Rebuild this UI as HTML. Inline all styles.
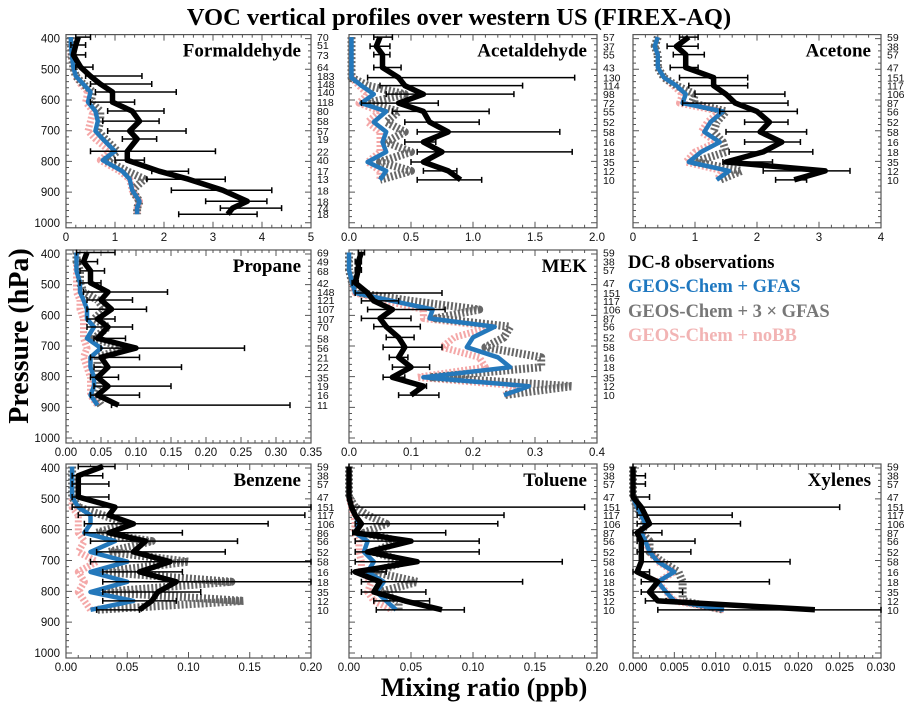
<!DOCTYPE html>
<html><head><meta charset="utf-8"><style>
html,body{margin:0;padding:0;background:#fff;}
svg{display:block;}
.tk{font-family:"Liberation Sans",sans-serif;font-size:11.5px;fill:#111;}
.cnt{font-family:"Liberation Sans",sans-serif;font-size:10.5px;fill:#111;}
.ser{font-family:"Liberation Serif",serif;font-weight:bold;}
</style></head><body>
<svg id="chart" width="915" height="708" viewBox="0 0 915 708" xmlns="http://www.w3.org/2000/svg">
<text class="ser" x="459" y="25" font-size="24.5" text-anchor="middle">VOC vertical profiles over western US (FIREX-AQ)</text>
<text class="ser" x="0" y="0" font-size="28" text-anchor="middle" transform="translate(28,336) rotate(-90)">Pressure (hPa)</text>
<text class="ser" x="484" y="696" font-size="26" text-anchor="middle">Mixing ratio (ppb)</text>
<g>
<text class="ser" x="628" y="268" font-size="18.5" fill="#000">DC-8 observations</text>
<text class="ser" x="628" y="292" font-size="18.5" fill="#1f78c0">GEOS-Chem + GFAS</text>
<text class="ser" x="628" y="317" font-size="18.5" fill="#777">GEOS-Chem + 3 × GFAS</text>
<text class="ser" x="628" y="341" font-size="18.5" fill="#f2b4b4">GEOS-Chem + noBB</text>
</g>
</svg>
<script>
// ---- data ----
const pHcho = [395,421,453,493,522,548,574,607,636,669,701,727,767,796,832,858,894,930,952,972];
const nHcho = [70,51,73,64,183,148,140,118,80,58,57,19,22,40,17,13,18,18,74,18];
const hchoObs = [0.25,0.2,0.15,0.3,0.5,0.7,0.95,0.95,1.35,1.5,1.3,1.45,1.25,1.25,1.9,2.5,3.2,3.7,3.4,3.3];
const hchoLo = [0.2,0.1,0.2,0.2,0.4,0.5,0.6,0.5,0.85,0.75,0.85,1.15,0.5,1.0,1.75,1.65,2.15,2.85,3.15,2.3];
const hchoHi = [0.5,0.4,0.4,0.55,1.55,1.75,2.25,1.4,2.0,1.9,2.45,1.85,3.05,1.6,2.5,3.25,4.2,4.1,4.4,3.9];
const hchoGfas = [0.1,0.1,0.12,0.15,0.2,0.35,0.5,0.45,0.6,0.65,0.6,0.75,1.0,0.75,1.15,1.3,1.35,1.5,1.45,1.45];
const hcho3x = [0.1,0.1,0.12,0.15,0.2,0.35,0.55,0.5,0.7,0.7,0.65,0.8,1.05,0.8,1.25,1.6,1.35,1.5,1.45,1.45];
const hchoNobb = [0.1,0.1,0.1,0.15,0.2,0.3,0.45,0.4,0.55,0.5,0.45,0.6,0.9,0.7,1.1,1.3,1.35,1.5,1.45,1.45];

const pStd = [395,425,452,494,527,553,581,610,637,672,704,737,769,802,831,860];
const nStd = [59,38,57,47,151,117,106,87,56,52,58,16,18,35,12,10];
const nAcal = [57,37,55,43,130,114,98,72,55,52,58,16,18,35,12,10];
const acalObs = [0.25,0.22,0.27,0.27,0.4,0.45,0.6,0.4,0.6,0.65,0.8,0.6,0.75,0.6,0.8,0.9];
const acalLo = [0.2,0.17,0.2,0.2,0.15,0.25,0.3,0.1,0.35,0.45,0.55,0.45,0.55,0.5,0.6,0.55];
const acalHi = [0.35,0.33,0.33,0.42,1.82,1.4,1.33,0.72,1.13,1.05,1.7,0.7,1.8,0.65,0.87,1.07];
const acalGfas = [0.02,0.02,0.02,0.02,0.02,0.1,0.2,0.1,0.3,0.2,0.3,0.27,0.3,0.15,0.3,0.25];
const acal3x = [0.02,0.02,0.02,0.02,0.02,0.15,0.45,0.15,0.4,0.3,0.45,0.3,0.5,0.25,0.5,0.25];
const acalNobb = [0.02,0.02,0.02,0.02,0.02,0.08,0.15,0.08,0.25,0.15,0.25,0.25,0.25,0.15,0.25,0.25];

const nAcet = [59,38,57,47,151,117,106,87,56,52,58,16,18,35,12,10];
const acetObs = [0.9,0.7,0.85,0.85,1.3,1.3,1.5,1.65,2.0,2.2,2.05,2.4,2.1,1.5,3.1,2.6];
const acetLo = [0.75,0.55,0.65,0.6,0.75,0.9,1.0,0.8,1.4,1.8,1.5,1.8,1.55,1.45,2.1,2.3];
const acetHi = [1.05,1.05,1.15,1.05,1.85,1.85,2.45,2.5,2.65,2.5,2.8,2.7,2.9,2.25,3.5,2.8];
const acetGfas = [0.4,0.35,0.4,0.4,0.5,0.7,0.85,0.8,1.45,1.25,1.15,1.4,1.1,0.9,1.55,1.35];
const acet3x = [0.4,0.35,0.4,0.4,0.5,0.7,1.0,0.95,1.5,1.35,1.3,1.45,1.5,1.0,1.75,1.4];
const acetNobb = [0.4,0.35,0.4,0.4,0.5,0.65,0.8,0.75,1.4,1.2,1.1,1.35,1.0,0.85,1.45,1.35];

const pProp = [395,425,455,494,524,550,580,612,638,675,707,737,769,802,831,860,893];
const nProp = [69,49,68,42,148,121,107,107,70,58,56,21,22,35,19,16,11];
const propObs = [0.03,0.025,0.035,0.035,0.06,0.05,0.065,0.045,0.06,0.045,0.1,0.05,0.06,0.045,0.06,0.045,0.075];
const propLo = [0.015,0.02,0.02,0.02,0.025,0.03,0.03,0.03,0.03,0.04,0.05,0.035,0.04,0.035,0.04,0.035,0.065];
const propHi = [0.07,0.045,0.055,0.05,0.145,0.095,0.115,0.07,0.095,0.085,0.255,0.105,0.165,0.075,0.15,0.105,0.32];
const propGfas = [0.015,0.015,0.015,0.02,0.02,0.025,0.03,0.03,0.04,0.03,0.05,0.035,0.035,0.04,0.04,0.035,0.045];
const prop3x = [0.015,0.015,0.02,0.02,0.025,0.045,0.055,0.04,0.06,0.04,0.085,0.045,0.045,0.045,0.045,0.04,0.05];
const propNobb = [0.015,0.015,0.015,0.015,0.015,0.02,0.02,0.025,0.025,0.025,0.03,0.025,0.03,0.035,0.035,0.035,0.045];

const mekObs = [0.02,0.015,0.015,0.01,0.03,0.04,0.07,0.05,0.06,0.08,0.09,0.08,0.1,0.07,0.12,0.1];
const mekLo = [0.015,0.01,0.01,0.005,0.01,0.02,0.03,0.02,0.04,0.06,0.055,0.065,0.07,0.055,0.11,0.08];
const mekHi = [0.025,0.02,0.02,0.015,0.15,0.08,0.155,0.1,0.115,0.105,0.15,0.095,0.13,0.09,0.125,0.145];
const mekGfas = [0,0,0,0.005,0.01,0.07,0.135,0.13,0.235,0.2,0.19,0.24,0.26,0.12,0.29,0.25];
const mek3x = [0,0,0,0.005,0.015,0.1,0.21,0.14,0.26,0.25,0.22,0.31,0.31,0.13,0.36,0.25];
const mekNobb = [0,0,0,0.005,0.01,0.06,0.12,0.12,0.23,0.17,0.15,0.21,0.22,0.11,0.28,0.25];

const nBenz = [59,38,57,47,151,117,106,86,56,52,58,16,18,35,12,10];
const benzObs = [0.03,0.01,0.01,0.01,0.04,0.035,0.055,0.035,0.065,0.055,0.085,0.06,0.09,0.075,0.07,0.06];
const benzLo = [0.01,0.005,0.005,0.005,0.005,0.01,0.015,0.015,0.02,0.025,0.02,0.03,0.03,0.03,0.03,0.025];
const benzHi = [0.04,0.03,0.035,0.035,0.2,0.195,0.165,0.095,0.14,0.13,0.2,0.095,0.2,0.11,0.09,0.06];
const benzGfas = [0.005,0.005,0.005,0.005,0.01,0.02,0.02,0.015,0.04,0.02,0.05,0.02,0.05,0.02,0.055,0.02];
const benz3x = [0.005,0.005,0.005,0.005,0.01,0.03,0.05,0.025,0.07,0.035,0.1,0.03,0.135,0.03,0.145,0.025];
const benzNobb = [0.005,0.005,0.005,0.005,0.005,0.01,0.01,0.01,0.015,0.01,0.025,0.01,0.015,0.01,0.015,0.02];

const tolObs = [0,0,0,0,0.002,0.005,0.01,0.005,0.05,0.015,0.055,0.005,0.025,0.02,0.045,0.075];
const tolLo = [0,0,0,0,0.003,0.005,0.005,0.003,0.005,0.005,0.005,0.002,0.01,0.01,0.02,0.022];
const tolHi = [0,0,0,0,0.19,0.125,0.12,0.078,0.105,0.105,0.172,0.03,0.14,0.062,0.065,0.093];
const tolGfas = [0,0,0,0,0.002,0.005,0.008,0.005,0.015,0.012,0.02,0.015,0.028,0.022,0.03,0.038];
const tol3x = [0,0,0,0,0.005,0.015,0.03,0.012,0.04,0.02,0.045,0.02,0.055,0.025,0.04,0.04];
const tolNobb = [0,0,0,0,0.002,0.004,0.005,0.004,0.008,0.008,0.01,0.01,0.018,0.015,0.02,0.035];

const xylObs = [0,0,0,0,0.001,0.0015,0.002,0.0005,0.001,0.001,0.001,0.0005,0.003,0.002,0.003,0.022];
const xylLo = [0,0,0,0,0.0005,0.0005,0.0005,0,0.0005,0.0005,0.001,0,0.001,0.001,0.0015,0.003];
const xylHi = [0,0.0015,0.0015,0.002,0.025,0.012,0.013,0.0035,0.0075,0.007,0.019,0.002,0.0165,0.006,0.004,0.03];
const xylGfas = [0,0,0,0,0.0005,0.001,0.0015,0.001,0.0015,0.002,0.003,0.005,0.003,0.004,0.005,0.011];
const xyl3x = [0,0,0,0,0.0005,0.001,0.0015,0.001,0.002,0.002,0.0035,0.0055,0.006,0.006,0.006,0.011];
const xylNobb = [0,0,0,0,0.0005,0.001,0.0015,0.001,0.0015,0.002,0.003,0.005,0.003,0.004,0.005,0.011];

const ticksHcho = ["0","1","2","3","4","5"];
const ticksAcal = ["0.0","0.5","1.0","1.5","2.0"];
const ticksAcet = ["0","1","2","3","4"];
const ticksProp = ["0.00","0.05","0.10","0.15","0.20","0.25","0.30","0.35"];
const ticksMek = ["0.0","0.1","0.2","0.3","0.4"];
const ticksArom = ["0.00","0.05","0.10","0.15","0.20"];
const ticksXyl = ["0.000","0.005","0.010","0.015","0.020","0.025","0.030"];
const pressureTicks = [400,500,600,700,800,900,1000];

// ---- layout ----
const cols = [[66,311],[349,597],[633,881]];
const rows = [[38.6,222.8],[254,438],[468,653]];
const NS = "http://www.w3.org/2000/svg";
const svg = document.getElementById("chart");
function mk(tag, attrs, parent){
  const e = document.createElementNS(NS, tag);
  for (const k in attrs) e.setAttribute(k, attrs[k]);
  (parent||svg).appendChild(e);
  return e;
}
const panels = [
 {name:"Formaldehyde",c:0,r:0,p:pHcho,n:nHcho,obs:hchoObs,lo:hchoLo,hi:hchoHi,g:hchoGfas,g3:hcho3x,nb:hchoNobb,ticks:ticksHcho,ylab:true},
 {name:"Acetaldehyde",c:1,r:0,p:pStd,n:nAcal,obs:acalObs,lo:acalLo,hi:acalHi,g:acalGfas,g3:acal3x,nb:acalNobb,ticks:ticksAcal},
 {name:"Acetone",c:2,r:0,p:pStd,n:nAcet,obs:acetObs,lo:acetLo,hi:acetHi,g:acetGfas,g3:acet3x,nb:acetNobb,ticks:ticksAcet},
 {name:"Propane",c:0,r:1,p:pProp,n:nProp,obs:propObs,lo:propLo,hi:propHi,g:propGfas,g3:prop3x,nb:propNobb,ticks:ticksProp,ylab:true},
 {name:"MEK",c:1,r:1,p:pStd,n:nStd,obs:mekObs,lo:mekLo,hi:mekHi,g:mekGfas,g3:mek3x,nb:mekNobb,ticks:ticksMek},
 {name:"Benzene",c:0,r:2,p:pStd,n:nBenz,obs:benzObs,lo:benzLo,hi:benzHi,g:benzGfas,g3:benz3x,nb:benzNobb,ticks:ticksArom,ylab:true},
 {name:"Toluene",c:1,r:2,p:pStd,n:nStd,obs:tolObs,lo:tolLo,hi:tolHi,g:tolGfas,g3:tol3x,nb:tolNobb,ticks:ticksArom},
 {name:"Xylenes",c:2,r:2,p:pStd,n:nStd,obs:xylObs,lo:xylLo,hi:xylHi,g:xylGfas,g3:xyl3x,nb:xylNobb,ticks:ticksXyl}
];
panels.forEach(pn=>{
  const [x0,x1] = cols[pn.c], [y0,y1] = rows[pn.r];
  const xmax = parseFloat(pn.ticks[pn.ticks.length-1]);
  const xs = v => x0 + v/xmax*(x1-x0);
  const ys = p => y0 + (p-400)/600*(y1-y0);
  const key = pn.name.toLowerCase();
  const g = mk("g",{});
  
  
  const top = y0-4, bot = y1+5;
  const box = mk("rect",{x:x0,y:top,width:x1-x0,height:bot-top,fill:"none",stroke:"#555","stroke-width":1.2},g);
  
  
  let d="";
  for(let p=400;p<=1000;p+=20){const y=ys(p);const L=(p%100===0)?6:3;d+=`M${x0},${y}h${L}M${x1},${y}h${-L}`;}
  const nt = pn.ticks.length-1;
  for(let i=0;i<=nt*5;i++){const x=x0+(x1-x0)*i/(nt*5);const L=(i%5===0)?6:3;d+=`M${x},${bot}v${-L}M${x},${top}v${L}`;}
  const tk = mk("path",{d:d,stroke:"#555","stroke-width":1,fill:"none"},g);
  
  
  pn.ticks.forEach((t,i)=>{
    const tl = mk("text",{x:xs(parseFloat(t)),y:bot+13,class:"tk","text-anchor":"middle"},g);
    tl.textContent=t;
    
    
  });
  if(pn.ylab){
    pressureTicks.forEach(p=>{
      const yl = mk("text",{x:x0-6,y:ys(p)+4,class:"tk","text-anchor":"end"},g);
      yl.textContent=p;
      
      
    });
  }
  pn.n.forEach((n,i)=>{
    const cl = mk("text",{x:x1+6,y:ys(pn.p[i])+4,class:"cnt"},g);
    cl.textContent=n;
    
    
  });
  const ttl = mk("text",{x:x1-10,y:y0+18,class:"ser","font-size":19,"text-anchor":"end"},g);
  ttl.textContent=pn.name;
  
  
  const line = arr => arr.map((v,i)=>`${i?'L':'M'}${xs(v).toFixed(1)},${ys(pn.p[i]).toFixed(1)}`).join("");
  const nb = mk("path",{d:line(pn.nb),fill:"none",stroke:"#f4a8a8","stroke-width":7,"stroke-dasharray":"2,2","stroke-linejoin":"round"},g);
  
  
  const g3 = mk("path",{d:line(pn.g3),fill:"none",stroke:"#666","stroke-width":8,"stroke-dasharray":"2,2","stroke-linejoin":"round"},g);
  
  
  const gf = mk("path",{d:line(pn.g),fill:"none",stroke:"#2478bb","stroke-width":4.5,"stroke-linejoin":"round"},g);
  
  
  pn.lo.forEach((lo,i)=>{
    const y=ys(pn.p[i]), a=xs(lo), b=xs(pn.hi[i]);
    const eb = mk("path",{d:`M${a},${y}H${b}M${a},${y-3}v6M${b},${y-3}v6`,stroke:"#000","stroke-width":1.5,fill:"none"},g);
    
    
  });
  const ob = mk("path",{d:line(pn.obs),fill:"none",stroke:"#000","stroke-width":5.5,"stroke-linejoin":"round"},g);
  
  
});
</script>
</body></html>
